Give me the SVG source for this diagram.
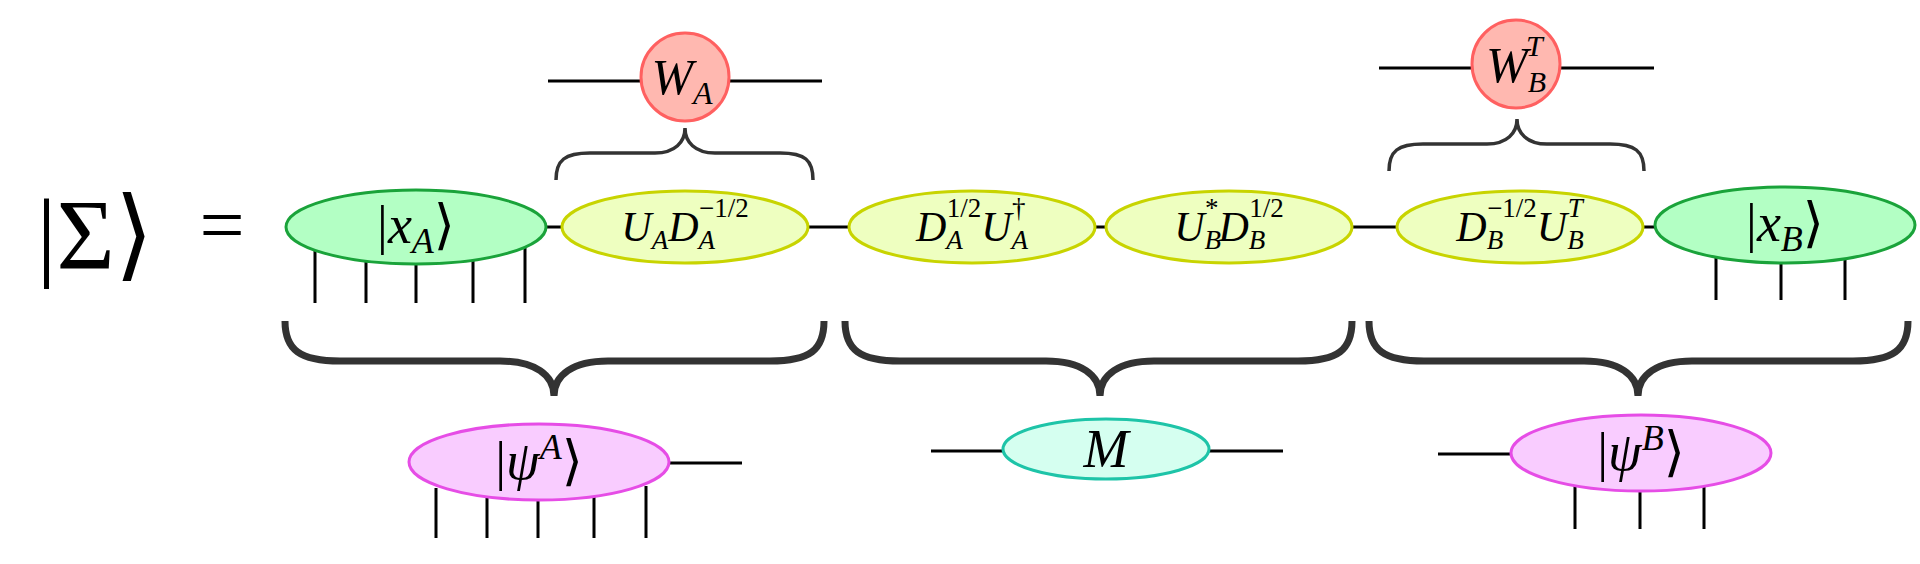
<svg xmlns="http://www.w3.org/2000/svg" width="1920" height="564" viewBox="0 0 1920 564">
<style>
text{font-family:"Liberation Serif","DejaVu Serif",serif;font-style:italic;fill:#000;text-anchor:middle}
.up{font-style:normal}
.w{stroke:#000;stroke-width:3;fill:none}
.b1{stroke:#333;stroke-width:3.5;fill:none}
.b2{stroke:#333;stroke-width:7;fill:none}
.g{fill:#b3ffc4;stroke:#1aa33a;stroke-width:3}
.y{fill:#eeffc0;stroke:#c8d400;stroke-width:3}
.r{fill:#ffb8b0;stroke:#ff6060;stroke-width:3}
.p{fill:#f9ccff;stroke:#e64de6;stroke-width:3}
.t{fill:#d5fff0;stroke:#1ec4a8;stroke-width:3}
</style>
<rect width="1920" height="564" fill="#fff"/>
<g id="connectors">
<path class="w" d="M548,81H822 M1379,68H1654 M546,227H562 M808,227H849 M1095,227H1106 M1352,227H1397 M1643,227H1655 M669,463H742 M931,451H1283 M1438,454H1511"/>
<path class="w" d="M315,250V303 M366,258V303 M416,262V303 M473,258V303 M525,248V303"/>
<path class="w" d="M1716,255V300 M1781,262V300 M1845,255V300"/>
<path class="w" d="M436,488V538 M487,496V538 M538,500V538 M594,497V538 M646,486V538"/>
<path class="w" d="M1575,485V529 M1640,491V529 M1704,485V529"/>
<path class="b1" d="M556,180C556,160 565,153 590,153L655,153C675,153 685,142 685,128C685,142 695,153 715,153L780,153C805,153 813,160 813,180"/>
<path class="b1" d="M1389,171C1389,151 1398,144 1423,144L1487,144C1507,144 1517,133 1517,119C1517,133 1527,144 1547,144L1610,144C1635,144 1644,151 1644,171"/>
<path class="b2" d="M285,321C285,350 300,361 340,361L500,361C535,361 554,375 554,396C554,375 573,361 608,361L770,361C810,361 824,350 824,321"/>
<path class="b2" d="M845,321C845,350 860,361 900,361L1046,361C1081,361 1100,375 1100,396C1100,375 1119,361 1154,361L1298,361C1338,361 1352,350 1352,321"/>
<path class="b2" d="M1369,321C1369,350 1384,361 1424,361L1584,361C1619,361 1638,375 1638,396C1638,375 1657,361 1692,361L1853,361C1893,361 1908,350 1908,321"/>
</g>
<g id="lhs"><text class="up" x="95" y="268" font-size="100" font-family="Liberation Serif">|Σ⟩</text><text class="up" x="222" y="252" font-size="80">=</text></g>
<g id="WA"><ellipse class="r" cx="685" cy="77" rx="44" ry="44"/><text x="682" y="94" font-size="50">W<tspan font-size="32" dy="10">A</tspan></text></g>
<g id="WB"><ellipse class="r" cx="1516" cy="64" rx="44" ry="44"/><text x="1516" y="82" font-size="50">W<tspan font-size="30" dy="10">B</tspan><tspan font-size="30" dx="-20" dy="-36">T</tspan></text></g>
<g id="xA"><ellipse class="g" cx="416" cy="227" rx="130" ry="37"/><text x="416" y="243" font-size="54"><tspan class="up">|</tspan>x<tspan font-size="36" dy="10">A</tspan><tspan class="up" dy="-10">⟩</tspan></text></g>
<g id="UA"><ellipse class="y" cx="685" cy="227" rx="123" ry="36"/><text x="685" y="241" font-size="42">U<tspan font-size="27" dy="8">A</tspan><tspan dy="-8">D</tspan><tspan font-size="27" dy="8">A</tspan><tspan class="up" font-size="27" dx="-16" dy="-32">−1/2</tspan></text></g>
<g id="DA"><ellipse class="y" cx="972" cy="227" rx="123" ry="36"/><text x="972" y="241" font-size="42">D<tspan font-size="27" dy="8">A</tspan><tspan class="up" font-size="27" dx="-16" dy="-32">1/2</tspan><tspan dy="24">U</tspan><tspan font-size="27" dy="8">A</tspan><tspan class="up" font-size="27" dx="-16" dy="-32">†</tspan></text></g>
<g id="UB"><ellipse class="y" cx="1229" cy="227" rx="123" ry="36"/><text x="1229" y="241" font-size="42">U<tspan font-size="27" dy="8">B</tspan><tspan class="up" font-size="27" dx="-16" dy="-32">*</tspan><tspan dy="24">D</tspan><tspan font-size="27" dy="8">B</tspan><tspan class="up" font-size="27" dx="-16" dy="-32">1/2</tspan></text></g>
<g id="DB"><ellipse class="y" cx="1520" cy="227" rx="123" ry="36"/><text x="1520" y="241" font-size="42">D<tspan font-size="27" dy="8">B</tspan><tspan class="up" font-size="27" dx="-16" dy="-32">−1/2</tspan><tspan dy="24">U</tspan><tspan font-size="27" dy="8">B</tspan><tspan font-size="27" dx="-16" dy="-32">T</tspan></text></g>
<g id="xB"><ellipse class="g" cx="1785" cy="225" rx="130" ry="38"/><text x="1785" y="241" font-size="54"><tspan class="up">|</tspan>x<tspan font-size="36" dy="10">B</tspan><tspan class="up" dy="-10">⟩</tspan></text></g>
<g id="psiA"><ellipse class="p" cx="539" cy="462" rx="130" ry="38"/><text x="539" y="479" font-size="54"><tspan class="up">|</tspan>ψ<tspan font-size="36" dy="-20">A</tspan><tspan class="up" dy="20">⟩</tspan></text></g>
<g id="M"><ellipse class="t" cx="1106" cy="449" rx="103" ry="30"/><text x="1106" y="467" font-size="54">M</text></g>
<g id="psiB"><ellipse class="p" cx="1641" cy="453" rx="130" ry="38"/><text x="1641" y="470" font-size="54"><tspan class="up">|</tspan>ψ<tspan font-size="36" dy="-20">B</tspan><tspan class="up" dy="20">⟩</tspan></text></g>
</svg>
